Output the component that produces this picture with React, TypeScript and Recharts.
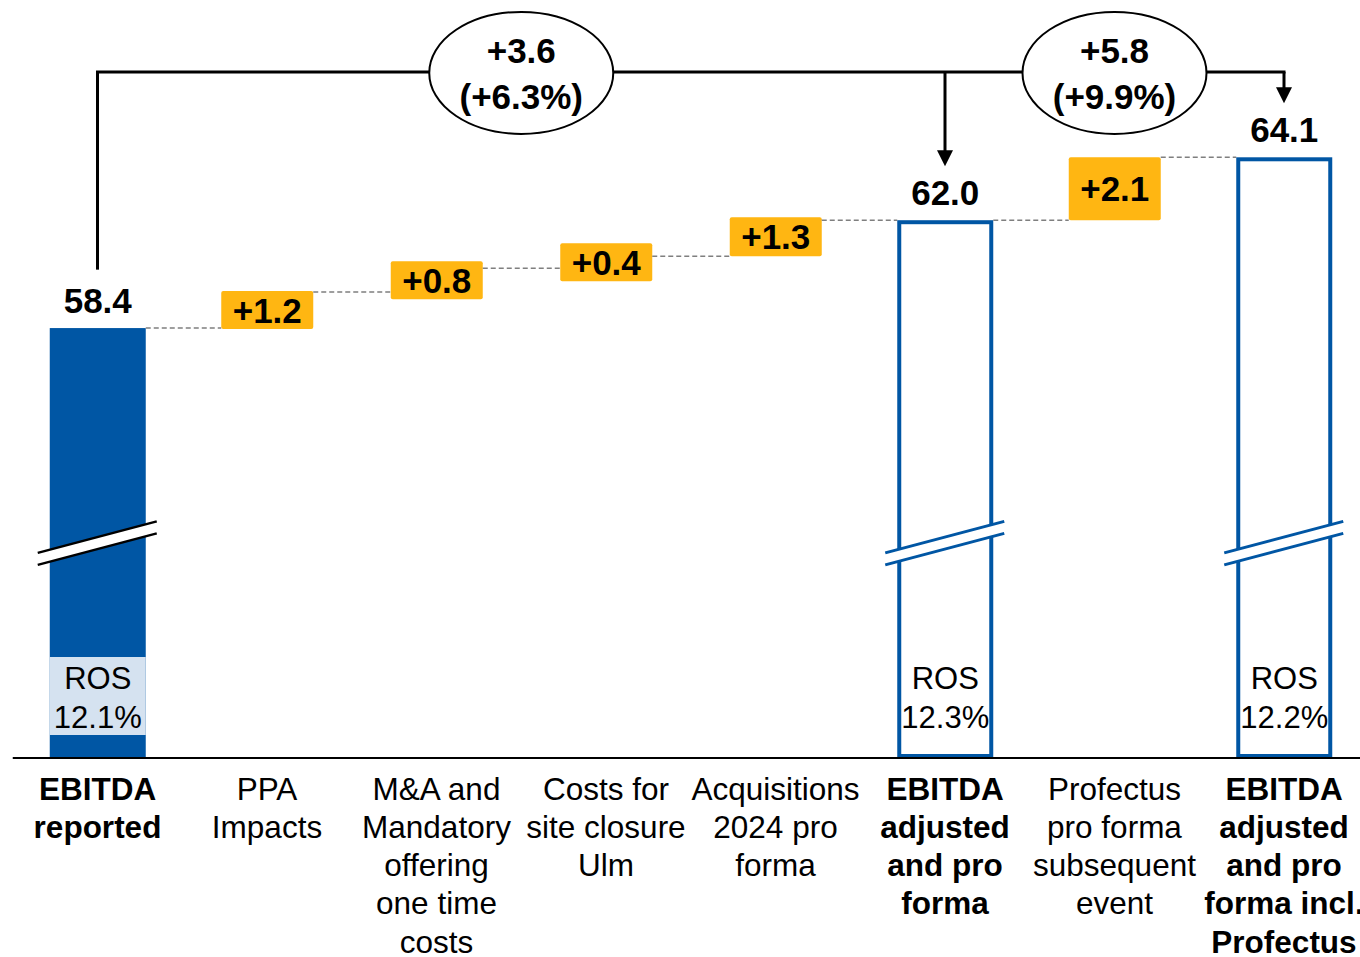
import {
  ComposedChart,
  Bar,
  XAxis,
  YAxis,
  ReferenceLine,
  ReferenceDot,
} from "recharts";

// ---- data ----
const categoryLines = [
  ["EBITDA", "reported"],
  ["PPA", "Impacts"],
  ["M&A and", "Mandatory", "offering", "one time", "costs"],
  ["Costs for", "site closure", "Ulm"],
  ["Acquisitions", "2024 pro", "forma"],
  ["EBITDA", "adjusted", "and pro", "forma"],
  ["Profectus", "pro forma", "subsequent", "event"],
  ["EBITDA", "adjusted", "and pro", "forma incl.", "Profectus"],
];
const boldCategory = [true, false, false, false, false, true, false, true];
const totals = [58.4, null, null, null, null, 62.0, null, 64.1];
const deltas = [null, 1.2, 0.8, 0.4, 1.3, null, 2.1, null];
const rosLabels = ["12.1%", null, null, null, null, "12.3%", null, "12.2%"];

const bridgeFrom = [0, 5];
const bridgeTo = [5, 7];
const bridgeDelta = ["+3.6", "+5.8"];
const bridgePct = ["(+6.3%)", "(+9.9%)"];

// ---- layout ----
const CHART_W = 1368.75;
const CHART_H = 957;
const MARGIN = { top: 0, right: 0, bottom: 9, left: 12.75 };
const Y_MIN = 44.05;
const Y_MAX = 69.35;
const BAND = (CHART_W - MARGIN.left - MARGIN.right) / categoryLines.length;
const BAR_W = 96;
const BOX_W = 92;
const BRACKET_LEVEL = 66.95;
const START_GAP = 1.95;
const ARROW_GAP = 1.8;

const BLUE = "#0056A4";
const ORANGE = "#FFB612";
const LIGHT_BLUE = "#D5E2F0";
const FONT = "'Liberation Sans', Arial, sans-serif";

type Row = {
  idx: number;
  kind: "total" | "delta";
  value: number;
  low: number;
  high: number;
};

const rows: Row[] = [];
{
  let level = 0;
  categoryLines.forEach((_, i) => {
    const t = totals[i];
    if (t != null) {
      level = t;
      rows.push({ idx: i, kind: "total", value: t, low: Y_MIN, high: t });
    } else {
      const d = deltas[i] as number;
      rows.push({ idx: i, kind: "delta", value: d, low: level, high: level + d });
      level = level + d;
    }
  });
}

function halfWidth(r: Row) {
  return r.kind === "total" ? BAR_W / 2 : BOX_W / 2;
}

function WaterfallShape(props: any) {
  const { x, y, width, height, index } = props;
  const row = rows[index];
  const prev = index > 0 ? rows[index - 1] : null;
  const cx = x + width / 2;
  const bottom = y + height;
  const connY = row.kind === "total" ? y : bottom;

  const connector = prev ? (
    <line
      x1={cx - BAND + halfWidth(prev)}
      x2={cx - halfWidth(row)}
      y1={connY}
      y2={connY}
      stroke="#7f7f7f"
      strokeWidth={1.5}
      strokeDasharray="5 3"
    />
  ) : null;

  if (row.kind === "delta") {
    const boxH = Math.max(height, 38);
    const boxY = y + height / 2 - boxH / 2;
    return (
      <g>
        {connector}
        <rect x={cx - BOX_W / 2} y={boxY} width={BOX_W} height={boxH} rx={2} fill={ORANGE} />
        <text
          x={cx}
          y={boxY + boxH / 2 + 12.5}
          textAnchor="middle"
          fontFamily={FONT}
          fontWeight="bold"
          fontSize={35}
          fill="#000"
        >
          +{row.value.toFixed(1)}
        </text>
      </g>
    );
  }

  const filled = index === 0;
  // axis break
  const bcy = bottom - 215;
  const slope = 0.265;
  const xl = x - 12;
  const xr = x + width + 11;
  const yAt = (xx: number, off: number) => bcy + slope * (cx - xx) + off;
  const ros = rosLabels[index];

  return (
    <g>
      {connector}
      {filled ? (
        <rect x={x} y={y} width={width} height={height} fill={BLUE} />
      ) : (
        <rect
          x={x + 2}
          y={y + 2}
          width={width - 4}
          height={height - 4}
          fill="#fff"
          stroke={BLUE}
          strokeWidth={4}
        />
      )}
      <polygon
        points={`${xl},${yAt(xl, -6)} ${xr},${yAt(xr, -6)} ${xr},${yAt(xr, 6)} ${xl},${yAt(xl, 6)}`}
        fill="#fff"
      />
      <line x1={xl} y1={yAt(xl, -6)} x2={xr} y2={yAt(xr, -6)} stroke={filled ? "#000" : BLUE} strokeWidth={filled ? 2.5 : 3} />
      <line x1={xl} y1={yAt(xl, 6)} x2={xr} y2={yAt(xr, 6)} stroke={filled ? "#000" : BLUE} strokeWidth={filled ? 2.5 : 3} />
      {filled && ros ? (
        <rect x={x} y={bottom - 101} width={width} height={78} fill={LIGHT_BLUE} />
      ) : null}
      {ros ? (
        <g fontFamily={FONT} fontSize={31} fill="#000" textAnchor="middle">
          <text x={cx} y={bottom - 80 + 11}>ROS</text>
          <text x={cx} y={bottom - 41 + 11}>{ros}</text>
        </g>
      ) : null}
      <text
        x={cx}
        y={y - 28 + 12.5}
        textAnchor="middle"
        fontFamily={FONT}
        fontWeight="bold"
        fontSize={35}
        fill="#000"
      >
        {row.value.toFixed(1)}
      </text>
    </g>
  );
}

function CategoryTick(props: any) {
  const { x, y, payload } = props;
  const i = payload.value as number;
  return (
    <g>
      {categoryLines[i].map((line, k) => (
        <text
          key={k}
          x={x}
          y={y + 41.5 + k * 38.3}
          textAnchor="middle"
          fontFamily={FONT}
          fontSize={31.5}
          fontWeight={boldCategory[i] ? "bold" : "normal"}
          fill="#000"
        >
          {line}
        </text>
      ))}
    </g>
  );
}

function ArrowLine(props: any) {
  const { x1, y1, x2, y2 } = props;
  const top = Math.min(y1, y2);
  const tip = Math.max(y1, y2);
  return (
    <g>
      <line x1={x1} x2={x2} y1={top} y2={tip - 14} stroke="#000" strokeWidth={3} />
      <polygon points={`${x2 - 8},${tip - 16} ${x2 + 8},${tip - 16} ${x2},${tip}`} fill="#000" />
    </g>
  );
}

function BridgeBubble(props: any) {
  const { cx, cy, k } = props;
  return (
    <g>
      <ellipse cx={cx} cy={cy + 1} rx={92} ry={61} fill="#fff" stroke="#000" strokeWidth={2} />
      <text x={cx} y={cy - 21 + 12.5} textAnchor="middle" fontFamily={FONT} fontWeight="bold" fontSize={35} fill="#000">
        {bridgeDelta[k]}
      </text>
      <text x={cx} y={cy + 25 + 12.5} textAnchor="middle" fontFamily={FONT} fontWeight="bold" fontSize={35} fill="#000">
        {bridgePct[k]}
      </text>
    </g>
  );
}

export default function App() {
  return (
    <div
      style={{
        position: "absolute",
        left: 0,
        top: 0,
        width: 1360,
        height: 957,
        overflow: "hidden",
        background: "#fff",
      }}
    >
      <ComposedChart width={CHART_W} height={CHART_H} data={rows} margin={MARGIN}>
        <XAxis
          type="number"
          dataKey="idx"
          domain={[-0.5, categoryLines.length - 0.5]}
          ticks={categoryLines.map((_, i) => i)}
          interval={0}
          allowDataOverflow
          height={190}
          tickSize={0}
          tickMargin={0}
          tickLine={false}
          axisLine={{ stroke: "#000", strokeWidth: 2 }}
          tick={<CategoryTick />}
        />
        <YAxis type="number" domain={[Y_MIN, Y_MAX]} allowDataOverflow hide />
        <Bar
          dataKey={(r: Row) => [r.low, r.high]}
          barSize={BAR_W}
          shape={<WaterfallShape />}
          isAnimationActive={false}
        />
        <ReferenceLine
          segment={[
            { x: bridgeFrom[0], y: (totals[0] as number) + START_GAP },
            { x: bridgeFrom[0], y: BRACKET_LEVEL },
          ]}
          stroke="#000"
          strokeWidth={3}
        />
        <ReferenceLine
          segment={[
            { x: bridgeFrom[0], y: BRACKET_LEVEL },
            { x: bridgeTo[1], y: BRACKET_LEVEL },
          ]}
          stroke="#000"
          strokeWidth={3}
          strokeLinecap="square"
        />
        {bridgeTo.map((t) => (
          <ReferenceLine
            key={`arrow-${t}`}
            segment={[
              { x: t, y: BRACKET_LEVEL },
              { x: t, y: (totals[t] as number) + ARROW_GAP },
            ]}
            shape={<ArrowLine />}
          />
        ))}
        {bridgeFrom.map((f, k) => (
          <ReferenceDot
            key={`bubble-${k}`}
            x={(f + bridgeTo[k]) / 2}
            y={BRACKET_LEVEL}
            r={0}
            shape={(p: any) => <BridgeBubble {...p} k={k} />}
          />
        ))}
      </ComposedChart>
    </div>
  );
}
